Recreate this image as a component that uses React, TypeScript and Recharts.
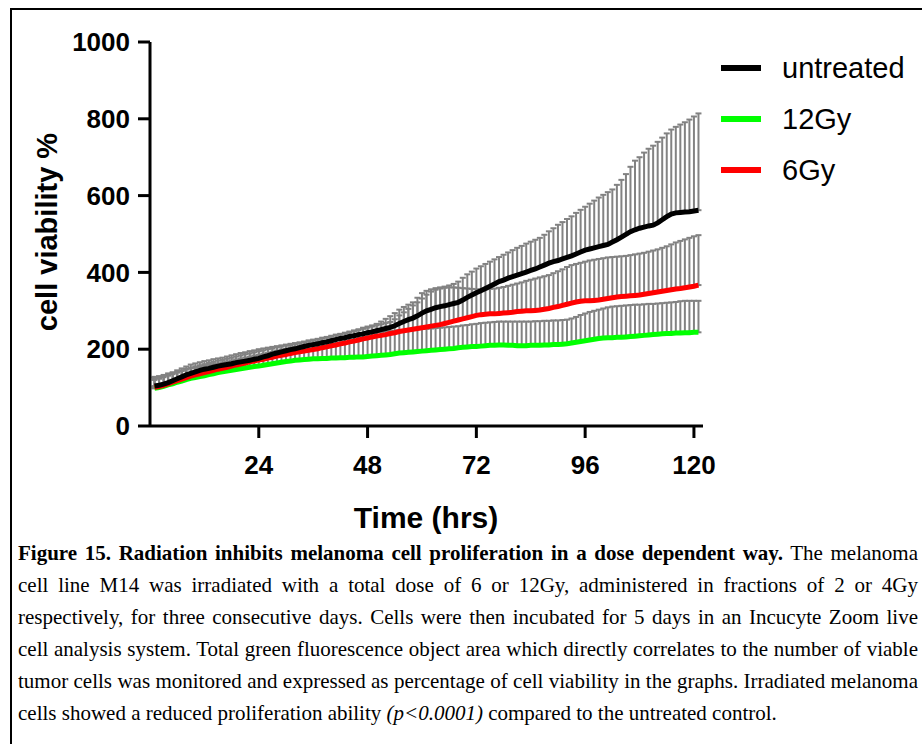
import React from 'react';
import { LineChart, Line, XAxis, YAxis, ErrorBar } from 'recharts';

// time points (hrs)
const HOURS = [
  1, 2, 3, 4, 5, 6, 7, 8, 9, 10, 11, 12, 13, 14, 15, 16, 17, 18, 19, 20,
  21, 22, 23, 24, 25, 26, 27, 28, 29, 30, 31, 32, 33, 34, 35, 36, 37, 38, 39, 40,
  41, 42, 43, 44, 45, 46, 47, 48, 49, 50, 51, 52, 53, 54, 55, 56, 57, 58, 59, 60,
  61, 62, 63, 64, 65, 66, 67, 68, 69, 70, 71, 72, 73, 74, 75, 76, 77, 78, 79, 80,
  81, 82, 83, 84, 85, 86, 87, 88, 89, 90, 91, 92, 93, 94, 95, 96, 97, 98, 99, 100,
  101, 102, 103, 104, 105, 106, 107, 108, 109, 110, 111, 112, 113, 114, 115, 116, 117, 118, 119, 120,
  121,
];

// mean cell viability %
const UNTREATED = [
  104, 106, 109, 113, 118, 123, 128, 133, 137, 141, 145, 148, 150, 153, 156, 158, 160, 162, 165, 167,
  169, 171, 174, 176, 180, 183, 187, 190, 193, 196, 199, 201, 204, 207, 210, 212, 214, 217, 219, 222,
  225, 228, 230, 233, 235, 238, 240, 243, 245, 248, 251, 254, 257, 261, 267, 272, 277, 281, 287, 294,
  300, 304, 308, 311, 313, 316, 319, 322, 328, 335, 341, 347, 352, 358, 364, 370, 376, 380, 385, 389,
  393, 397, 401, 405, 409, 414, 419, 424, 428, 431, 435, 439, 443, 448, 453, 458, 461, 464, 467, 470,
  473, 479, 485, 492, 499, 506, 511, 515, 518, 521, 523, 529, 537, 545, 552, 555, 556, 557, 558, 560,
  562,
];
const GY12 = [
  98, 100, 103, 107, 110, 114, 117, 121, 124, 126, 129, 131, 134, 136, 139, 141, 143, 145, 147, 149,
  151, 153, 155, 156, 158, 160, 162, 164, 166, 168, 169, 171, 172, 173, 174, 175, 175, 176, 176, 177,
  177, 178, 178, 179, 179, 180, 180, 181, 182, 183, 184, 185, 186, 188, 190, 191, 192, 193, 194, 195,
  196, 197, 198, 199, 200, 201, 202, 204, 205, 206, 207, 207, 208, 209, 210, 210, 211, 211, 210, 210,
  209, 209, 209, 210, 210, 210, 211, 211, 212, 212, 213, 214, 216, 218, 220, 222, 224, 226, 228, 229,
  230, 230, 231, 231, 232, 233, 234, 235, 236, 237, 238, 239, 240, 241, 241, 242, 242, 243, 243, 244,
  244,
];
const GY6 = [
  101, 103, 106, 110, 114, 118, 122, 126, 130, 133, 136, 139, 142, 145, 148, 150, 153, 156, 159, 161,
  164, 167, 169, 172, 174, 177, 179, 182, 184, 186, 189, 191, 193, 195, 197, 199, 201, 204, 206, 209,
  211, 214, 216, 219, 221, 224, 227, 229, 232, 234, 236, 238, 241, 243, 246, 248, 250, 252, 254, 256,
  258, 260, 262, 264, 267, 270, 273, 276, 279, 282, 285, 288, 290, 291, 292, 292, 293, 294, 295, 296,
  298, 299, 300, 300, 301, 302, 304, 306, 309, 311, 314, 317, 320, 323, 325, 326, 326, 327, 328, 330,
  332, 334, 336, 337, 338, 339, 340, 341, 343, 345, 347, 349, 351, 353, 355, 357, 358, 360, 362, 364,
  367,
];

// top of the error bars (mean + SD)
const UNTREATED_TOP = [
  128, 130, 133, 137, 140, 145, 150, 155, 160, 163, 166, 169, 171, 174, 176, 178, 181, 184, 187, 190,
  192, 195, 197, 200, 202, 204, 206, 208, 210, 212, 214, 216, 218, 220, 223, 225, 227, 230, 232, 235,
  238, 240, 243, 246, 249, 252, 256, 259, 262, 266, 272, 279, 286, 294, 303, 310, 316, 322, 334, 346,
  352, 356, 359, 361, 363, 366, 370, 376, 386, 395, 402, 410, 416, 422, 428, 434, 440, 446, 452, 458,
  464, 469, 475, 480, 485, 490, 498, 507, 515, 524, 531, 539, 546, 555, 563, 571, 579, 587, 595, 602,
  609, 616, 628, 641, 656, 675, 691, 700, 712, 722, 730, 740, 751, 762, 772, 779, 785, 791, 798, 806,
  814,
];
const GY12_TOP = [
  120, 123, 127, 131, 135, 139, 143, 147, 150, 152, 154, 157, 159, 161, 163, 165, 168, 170, 173, 175,
  178, 180, 183, 185, 188, 190, 193, 196, 199, 201, 204, 206, 209, 211, 213, 215, 218, 220, 222, 225,
  227, 230, 232, 235, 237, 240, 241, 242, 243, 244, 245, 246, 247, 248, 250, 250, 251, 251, 252, 253,
  253, 254, 255, 256, 257, 258, 259, 260, 262, 263, 265, 266, 268, 269, 270, 271, 272, 272, 272, 272,
  272, 272, 272, 272, 273, 273, 274, 274, 275, 275, 276, 277, 280, 284, 289, 293, 297, 300, 303, 306,
  309, 311, 312, 313, 314, 315, 316, 316, 317, 318, 318, 319, 320, 321, 322, 323, 325, 326, 326, 326,
  326,
];
const GY6_TOP = [
  125, 127, 130, 134, 138, 141, 145, 149, 152, 155, 158, 161, 164, 167, 170, 172, 175, 178, 181, 184,
  187, 189, 192, 195, 197, 200, 202, 205, 207, 209, 211, 213, 216, 218, 220, 223, 225, 228, 230, 233,
  236, 239, 241, 244, 247, 250, 253, 256, 259, 262, 265, 268, 271, 278, 288, 296, 305, 314, 322, 332,
  342, 350, 355, 358, 360, 361, 361, 360, 359, 358, 357, 356, 356, 356, 357, 358, 360, 362, 365, 368,
  371, 374, 378, 381, 384, 387, 390, 393, 398, 403, 408, 414, 419, 422, 425, 428, 431, 433, 435, 437,
  439, 440, 441, 442, 443, 445, 447, 449, 451, 454, 457, 460, 464, 468, 473, 478, 482, 486, 490, 494,
  497,
];

const Y_TICKS = [0, 200, 400, 600, 800, 1000];
const X_TICKS = [24, 48, 72, 96, 120];

const LEGEND = [
  { key: 'untreated', label: 'untreated', color: '#000000' },
  { key: 'gy12', label: '12Gy', color: '#00ff00' },
  { key: 'gy6', label: '6Gy', color: '#ff0000' },
];

const data = HOURS.map((h, i) => ({
  h,
  untreated: UNTREATED[i],
  untreatedErr: [0, UNTREATED_TOP[i] - UNTREATED[i]],
  gy12: GY12[i],
  gy12Err: [0, GY12_TOP[i] - GY12[i]],
  gy6: GY6[i],
  gy6Err: [0, GY6_TOP[i] - GY6[i]],
}));

const SANS = '"Liberation Sans", Arial, Helvetica, sans-serif';
const SERIF = '"Liberation Serif", "Times New Roman", Times, serif';
const GREY = '#828282';
const CAPTION_W = 900;

const tickStyle = { fill: '#000', fontSize: 26, fontWeight: 700, fontFamily: SANS };

// one caption line: justified to the full width, squeezed if it is too long
function CaptionLine({ children, justify = true }: { children: React.ReactNode; justify?: boolean }) {
  const ref = React.useRef<HTMLSpanElement>(null);
  React.useLayoutEffect(() => {
    const el = ref.current;
    if (!el) return;
    el.style.wordSpacing = '';
    el.style.transform = '';
    const w = el.getBoundingClientRect().width;
    const spaces = (el.textContent || '').split(' ').length - 1;
    if (w > CAPTION_W) {
      el.style.transform = `scaleX(${CAPTION_W / w})`;
    } else if (justify && spaces > 0) {
      el.style.wordSpacing = `${(CAPTION_W - w) / spaces}px`;
    }
  });
  return (
    <div style={{ height: 32, lineHeight: '32px', whiteSpace: 'nowrap' }}>
      <span ref={ref} style={{ display: 'inline-block', transformOrigin: 'left center' }}>
        {children}
      </span>
    </div>
  );
}

export default function App() {
  return (
    <div style={{ position: 'absolute', left: 0, top: 0, width: 922, height: 744, background: '#fff', overflow: 'hidden' }}>
      {/* figure frame */}
      <div style={{ position: 'absolute', left: 10, top: 8, width: 930, height: 760, borderLeft: '2px solid #000', borderTop: '2px solid #000' }} />

      <div style={{ position: 'absolute', left: 0, top: 0 }}>
        <LineChart width={720} height={500} data={data} margin={{ top: 42, right: 17, bottom: 0, left: 0 }}>
          <XAxis
            dataKey="h"
            type="number"
            domain={[0, 122]}
            ticks={X_TICKS}
            tickSize={12}
            tickMargin={18}
            height={74}
            axisLine={{ stroke: '#000', strokeWidth: 3 }}
            tickLine={{ stroke: '#000', strokeWidth: 3 }}
            tick={tickStyle}
          />
          <YAxis
            type="number"
            domain={[0, 1000]}
            ticks={Y_TICKS}
            width={150}
            tickSize={12}
            tickMargin={8}
            axisLine={{ stroke: '#000', strokeWidth: 3 }}
            tickLine={{ stroke: '#000', strokeWidth: 3 }}
            tick={tickStyle}
          />
          {/* error bars first so the lines sit on top */}
          {LEGEND.map((s) => (
            <Line
              key={s.key + '-err'}
              dataKey={s.key}
              stroke="none"
              dot={false}
              activeDot={false}
              isAnimationActive={false}
            >
              <ErrorBar dataKey={s.key + 'Err'} width={3} stroke={GREY} strokeWidth={2} direction="y" isAnimationActive={false} />
            </Line>
          ))}
          {[LEGEND[1], LEGEND[2], LEGEND[0]].map((s) => (
            <Line
              key={s.key}
              type="linear"
              dataKey={s.key}
              stroke={s.color}
              strokeWidth={5}
              dot={false}
              activeDot={false}
              isAnimationActive={false}
            />
          ))}
        </LineChart>
      </div>

      {/* axis titles */}
      <div
        style={{
          position: 'absolute', left: 47, top: 232, transform: 'translate(-50%, -50%) rotate(-90deg)',
          fontFamily: SANS, fontWeight: 700, fontSize: 29, whiteSpace: 'nowrap', color: '#000',
        }}
      >
        cell viability %
      </div>
      <div
        style={{
          position: 'absolute', left: 426, top: 518, transform: 'translate(-50%, -50%)',
          fontFamily: SANS, fontWeight: 700, fontSize: 30, whiteSpace: 'nowrap', color: '#000',
        }}
      >
        Time (hrs)
      </div>

      {/* legend */}
      {LEGEND.map((s, i) => (
        <div key={s.key} style={{ position: 'absolute', left: 721, top: 68 + i * 51, height: 0 }}>
          <div style={{ position: 'absolute', left: 0, top: -3, width: 40, height: 6, background: s.color }} />
          <div
            style={{
              position: 'absolute', left: 61, top: 0, transform: 'translateY(-50%)',
              fontFamily: SANS, fontSize: 29, whiteSpace: 'nowrap', color: '#000', lineHeight: 1,
            }}
          >
            {s.label}
          </div>
        </div>
      ))}

      {/* caption */}
      <div
        style={{
          position: 'absolute', left: 18, top: 537, width: CAPTION_W,
          fontFamily: SERIF, fontSize: 21, color: '#000',
        }}
      >
        <CaptionLine>
          <b>Figure 15. Radiation inhibits melanoma cell proliferation in a dose dependent way.</b> The melanoma
        </CaptionLine>
        <CaptionLine>cell line M14 was irradiated with a total dose of 6 or 12Gy, administered in fractions of 2 or 4Gy</CaptionLine>
        <CaptionLine>respectively, for three consecutive days. Cells were then incubated for 5 days in an Incucyte Zoom live</CaptionLine>
        <CaptionLine>cell analysis system. Total green fluorescence object area which directly correlates to the number of viable</CaptionLine>
        <CaptionLine>tumor cells was monitored and expressed as percentage of cell viability in the graphs. Irradiated melanoma</CaptionLine>
        <CaptionLine justify={false}>
          cells showed a reduced proliferation ability <i>(p&lt;0.0001)</i> compared to the untreated control.
        </CaptionLine>
      </div>
    </div>
  );
}
